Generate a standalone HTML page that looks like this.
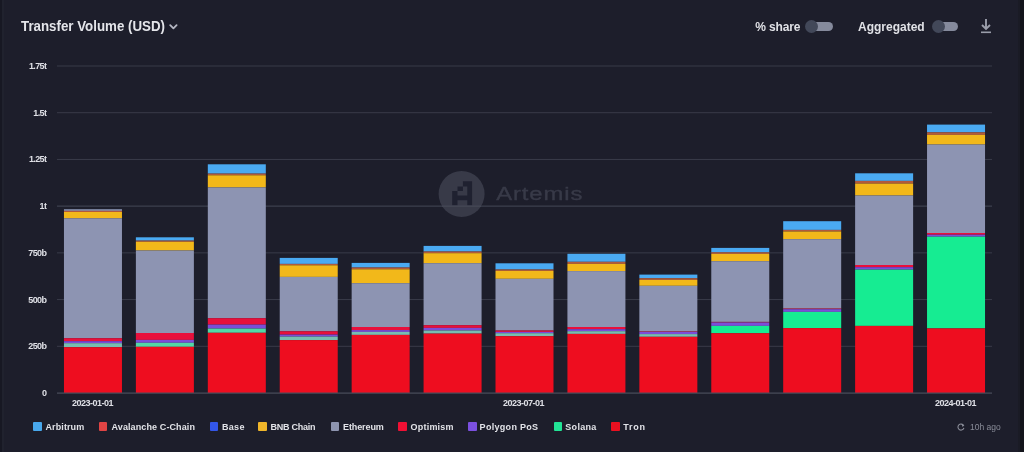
<!DOCTYPE html>
<html><head><meta charset="utf-8">
<style>
*{margin:0;padding:0;box-sizing:border-box}
html,body{will-change:transform;width:1024px;height:452px;overflow:hidden;background:#1d1e2b;font-family:"Liberation Sans",sans-serif}
.abs{position:absolute}
#strip{position:absolute;left:1018px;top:0;width:6px;height:452px;background:#1a1b25}#strip2{position:absolute;left:1020px;top:0;width:4px;height:452px;background:#13141b}#ledge{position:absolute;left:0;top:0;width:1.5px;height:452px;background:#171823}#ledge2{position:absolute;left:1.5px;top:0;width:2.5px;height:452px;background:#20222e}
#title{position:absolute;left:21px;top:16.6px;font-size:15.3px;font-weight:bold;color:#e4e5ea;white-space:nowrap;line-height:18px;transform:scaleX(0.87);transform-origin:0 0}
.tog-label{position:absolute;top:20px;font-size:12px;font-weight:bold;color:#e0e1e6;white-space:nowrap;line-height:15px}
.track{position:absolute;height:9px;border-radius:5px;background:#858a9c}
.knob{position:absolute;width:13px;height:13px;border-radius:6.5px;background:#424859}
.yl{position:absolute;right:977.6px;font-size:9px;font-weight:bold;color:#dfe0e6;line-height:10px;white-space:nowrap;letter-spacing:-0.6px}
.xl{position:absolute;top:397.5px;font-size:9px;font-weight:bold;color:#dfe0e6;line-height:10px;white-space:nowrap;letter-spacing:-0.5px}
.lsq{position:absolute;top:422px;width:8.5px;height:8.5px;border-radius:1px}
.lt{position:absolute;top:421.7px;font-size:9px;font-weight:bold;color:#e2e3e8;line-height:11px;white-space:nowrap;letter-spacing:0.3px}
#ago{position:absolute;left:970px;top:421.8px;font-size:8.5px;color:#8a8d99;line-height:11px;white-space:nowrap}
</style></head><body>
<div id="strip"></div><div id="strip2"></div><div id="ledge"></div><div id="ledge2"></div>
<div id="title">Transfer Volume (USD)</div>
<svg class="abs" style="left:168px;top:21.6px" width="12" height="10" viewBox="0 0 12 10"><path d="M2.2 3.2 L5.4 6.4 L8.6 3.2" stroke="#b4b6c2" stroke-width="1.8" stroke-linecap="round" stroke-linejoin="round" fill="none"/></svg>
<div class="tog-label" style="left:755.3px;letter-spacing:-0.15px">% share</div>
<div class="track" style="left:808px;top:22px;width:25px"></div>
<div class="knob" style="left:805px;top:20px"></div>
<div class="tog-label" style="left:858px">Aggregated</div>
<div class="track" style="left:934px;top:22px;width:24px"></div>
<div class="knob" style="left:932px;top:20px"></div>
<svg class="abs" style="left:979px;top:17px" width="14" height="18" viewBox="0 0 14 18"><path d="M7 2 V12 M3 8 L7 12 L11 8" stroke="#9a9daa" stroke-width="1.9" fill="none"/><rect x="2" y="14.5" width="10" height="1.6" fill="#9a9daa"/></svg>
<svg class="abs" style="left:0;top:0" width="1024" height="452"><rect x="57" y="345.79" width="935" height="1" fill="#393b49"/><rect x="57" y="299.07" width="935" height="1" fill="#393b49"/><rect x="57" y="252.36" width="935" height="1" fill="#393b49"/><rect x="57" y="205.64" width="935" height="1" fill="#393b49"/><rect x="57" y="158.93" width="935" height="1" fill="#393b49"/><rect x="57" y="112.21" width="935" height="1" fill="#393b49"/><rect x="57" y="65.50" width="935" height="1" fill="#393b49"/><circle cx="461.6" cy="194" r="23" fill="#383a48"/><path fill-rule="evenodd" d="M452.2 205.6 V191 H457.5 V186.6 H462.9 V181.25 H472.1 V205.6 H467.3 V200.2 H457.5 V205.6 Z M462.9 186.6 H467.3 V195.4 H457.5 V191 H462.9 Z" fill="#1f2130"/><text transform="translate(496.2,199.8) scale(1.27,1)" x="0" y="0" font-family="Liberation Sans" font-size="18.8" letter-spacing="0.7" fill="#383a48" stroke="#383a48" stroke-width="0.35">Artemis</text><rect x="57" y="205.64" width="935" height="1" fill="#393b49"/><rect x="442" y="205.6" width="39" height="1" fill="#4a4c5a"/><rect x="63.96" y="209.30" width="58.0" height="1.50" fill="#9aa6c8"/><rect x="63.96" y="210.80" width="58.0" height="1.20" fill="#b05a3c"/><rect x="63.96" y="212.00" width="58.0" height="6.30" fill="#f2b81a"/><rect x="63.96" y="218.30" width="58.0" height="119.90" fill="#8d94b2"/><rect x="63.96" y="338.20" width="58.0" height="3.00" fill="#e8103c"/><rect x="63.96" y="341.20" width="58.0" height="2.00" fill="#7c4dd8"/><rect x="63.96" y="343.20" width="58.0" height="4.00" fill="#78bdb0"/><rect x="63.96" y="347.20" width="58.0" height="45.80" fill="#ee0d1f"/><rect x="135.88" y="237.30" width="58.0" height="3.30" fill="#4aaaf2"/><rect x="135.88" y="240.60" width="58.0" height="1.20" fill="#b05a3c"/><rect x="135.88" y="241.80" width="58.0" height="8.70" fill="#f2b81a"/><rect x="135.88" y="250.50" width="58.0" height="82.50" fill="#8d94b2"/><rect x="135.88" y="333.00" width="58.0" height="6.90" fill="#e8103c"/><rect x="135.88" y="339.90" width="58.0" height="2.90" fill="#7c4dd8"/><rect x="135.88" y="342.80" width="58.0" height="4.00" fill="#52d8a6"/><rect x="135.88" y="346.80" width="58.0" height="46.20" fill="#ee0d1f"/><rect x="207.81" y="164.30" width="58.0" height="9.30" fill="#4aaaf2"/><rect x="207.81" y="173.60" width="58.0" height="1.70" fill="#b05a3c"/><rect x="207.81" y="175.30" width="58.0" height="12.10" fill="#f2b81a"/><rect x="207.81" y="187.40" width="58.0" height="130.80" fill="#8d94b2"/><rect x="207.81" y="318.20" width="58.0" height="6.40" fill="#e8103c"/><rect x="207.81" y="324.60" width="58.0" height="4.00" fill="#7c4dd8"/><rect x="207.81" y="328.60" width="58.0" height="4.20" fill="#52d8a6"/><rect x="207.81" y="332.80" width="58.0" height="60.20" fill="#ee0d1f"/><rect x="279.73" y="257.90" width="58.0" height="6.00" fill="#4aaaf2"/><rect x="279.73" y="263.90" width="58.0" height="1.40" fill="#b05a3c"/><rect x="279.73" y="265.30" width="58.0" height="11.60" fill="#f2b81a"/><rect x="279.73" y="276.90" width="58.0" height="54.40" fill="#8d94b2"/><rect x="279.73" y="331.30" width="58.0" height="3.30" fill="#e8103c"/><rect x="279.73" y="334.60" width="58.0" height="2.00" fill="#7c4dd8"/><rect x="279.73" y="336.60" width="58.0" height="3.50" fill="#78bdb0"/><rect x="279.73" y="340.10" width="58.0" height="52.90" fill="#ee0d1f"/><rect x="351.65" y="262.90" width="58.0" height="4.60" fill="#4aaaf2"/><rect x="351.65" y="267.50" width="58.0" height="1.80" fill="#b05a3c"/><rect x="351.65" y="269.30" width="58.0" height="13.90" fill="#f2b81a"/><rect x="351.65" y="283.20" width="58.0" height="43.80" fill="#8d94b2"/><rect x="351.65" y="327.00" width="58.0" height="3.10" fill="#e8103c"/><rect x="351.65" y="330.10" width="58.0" height="1.80" fill="#7c4dd8"/><rect x="351.65" y="331.90" width="58.0" height="3.00" fill="#78bdb0"/><rect x="351.65" y="334.90" width="58.0" height="58.10" fill="#ee0d1f"/><rect x="423.58" y="245.90" width="58.0" height="5.60" fill="#4aaaf2"/><rect x="423.58" y="251.50" width="58.0" height="1.70" fill="#b05a3c"/><rect x="423.58" y="253.20" width="58.0" height="10.00" fill="#f2b81a"/><rect x="423.58" y="263.20" width="58.0" height="62.00" fill="#8d94b2"/><rect x="423.58" y="325.20" width="58.0" height="2.70" fill="#e8103c"/><rect x="423.58" y="327.90" width="58.0" height="2.60" fill="#7c4dd8"/><rect x="423.58" y="330.50" width="58.0" height="3.10" fill="#78bdb0"/><rect x="423.58" y="333.60" width="58.0" height="59.40" fill="#ee0d1f"/><rect x="495.50" y="263.30" width="58.0" height="6.20" fill="#4aaaf2"/><rect x="495.50" y="269.50" width="58.0" height="1.40" fill="#b05a3c"/><rect x="495.50" y="270.90" width="58.0" height="7.90" fill="#f2b81a"/><rect x="495.50" y="278.80" width="58.0" height="51.70" fill="#8d94b2"/><rect x="495.50" y="330.50" width="58.0" height="1.40" fill="#e8103c"/><rect x="495.50" y="331.90" width="58.0" height="1.30" fill="#7c4dd8"/><rect x="495.50" y="333.20" width="58.0" height="3.00" fill="#78bdb0"/><rect x="495.50" y="336.20" width="58.0" height="56.80" fill="#ee0d1f"/><rect x="567.42" y="253.80" width="58.0" height="8.00" fill="#4aaaf2"/><rect x="567.42" y="261.80" width="58.0" height="2.10" fill="#b05a3c"/><rect x="567.42" y="263.90" width="58.0" height="7.20" fill="#f2b81a"/><rect x="567.42" y="271.10" width="58.0" height="55.90" fill="#8d94b2"/><rect x="567.42" y="327.00" width="58.0" height="2.20" fill="#e8103c"/><rect x="567.42" y="329.20" width="58.0" height="2.00" fill="#7c4dd8"/><rect x="567.42" y="331.20" width="58.0" height="2.70" fill="#78bdb0"/><rect x="567.42" y="333.90" width="58.0" height="59.10" fill="#ee0d1f"/><rect x="639.35" y="274.60" width="58.0" height="3.60" fill="#4aaaf2"/><rect x="639.35" y="278.20" width="58.0" height="1.70" fill="#b05a3c"/><rect x="639.35" y="279.90" width="58.0" height="5.90" fill="#f2b81a"/><rect x="639.35" y="285.80" width="58.0" height="45.70" fill="#8d94b2"/><rect x="639.35" y="331.50" width="58.0" height="0.40" fill="#e8103c"/><rect x="639.35" y="331.90" width="58.0" height="2.20" fill="#7c4dd8"/><rect x="639.35" y="334.10" width="58.0" height="2.70" fill="#78bdb0"/><rect x="639.35" y="336.80" width="58.0" height="56.20" fill="#ee0d1f"/><rect x="711.27" y="247.90" width="58.0" height="4.40" fill="#4aaaf2"/><rect x="711.27" y="252.30" width="58.0" height="1.60" fill="#b05a3c"/><rect x="711.27" y="253.90" width="58.0" height="7.30" fill="#f2b81a"/><rect x="711.27" y="261.20" width="58.0" height="60.70" fill="#8d94b2"/><rect x="711.27" y="321.90" width="58.0" height="0.60" fill="#e8103c"/><rect x="711.27" y="322.50" width="58.0" height="3.40" fill="#7c4dd8"/><rect x="711.27" y="325.90" width="58.0" height="7.30" fill="#16ec92"/><rect x="711.27" y="333.20" width="58.0" height="59.80" fill="#ee0d1f"/><rect x="783.19" y="221.20" width="58.0" height="8.70" fill="#4aaaf2"/><rect x="783.19" y="229.90" width="58.0" height="1.60" fill="#b05a3c"/><rect x="783.19" y="231.50" width="58.0" height="7.70" fill="#f2b81a"/><rect x="783.19" y="239.20" width="58.0" height="69.40" fill="#8d94b2"/><rect x="783.19" y="308.60" width="58.0" height="0.60" fill="#e8103c"/><rect x="783.19" y="309.20" width="58.0" height="2.70" fill="#7c4dd8"/><rect x="783.19" y="311.90" width="58.0" height="16.20" fill="#16ec92"/><rect x="783.19" y="328.10" width="58.0" height="64.90" fill="#ee0d1f"/><rect x="855.12" y="173.30" width="58.0" height="7.60" fill="#4aaaf2"/><rect x="855.12" y="180.90" width="58.0" height="2.70" fill="#b05a3c"/><rect x="855.12" y="183.60" width="58.0" height="11.90" fill="#f2b81a"/><rect x="855.12" y="195.50" width="58.0" height="69.50" fill="#8d94b2"/><rect x="855.12" y="265.00" width="58.0" height="2.20" fill="#e8103c"/><rect x="855.12" y="267.20" width="58.0" height="2.40" fill="#7c4dd8"/><rect x="855.12" y="269.60" width="58.0" height="56.30" fill="#16ec92"/><rect x="855.12" y="325.90" width="58.0" height="67.10" fill="#ee0d1f"/><rect x="927.04" y="124.60" width="58.0" height="7.70" fill="#4aaaf2"/><rect x="927.04" y="132.30" width="58.0" height="2.60" fill="#b05a3c"/><rect x="927.04" y="134.90" width="58.0" height="9.60" fill="#f2b81a"/><rect x="927.04" y="144.50" width="58.0" height="88.50" fill="#8d94b2"/><rect x="927.04" y="233.00" width="58.0" height="1.70" fill="#e8103c"/><rect x="927.04" y="234.70" width="58.0" height="2.00" fill="#7c4dd8"/><rect x="927.04" y="236.70" width="58.0" height="91.70" fill="#16ec92"/><rect x="927.04" y="328.40" width="58.0" height="64.60" fill="#ee0d1f"/><rect x="57" y="392.5" width="935" height="1.2" fill="#4a4d5c"/></svg>
<div class="yl" style="top:388.0px">0</div><div class="yl" style="top:341.3px">250b</div><div class="yl" style="top:294.6px">500b</div><div class="yl" style="top:247.9px">750b</div><div class="yl" style="top:201.1px">1t</div><div class="yl" style="top:154.4px">1.25t</div><div class="yl" style="top:107.7px">1.5t</div><div class="yl" style="top:61.0px">1.75t</div>
<div class="xl" style="left:72px">2023-01-01</div>
<div class="xl" style="left:503px">2023-07-01</div>
<div class="xl" style="left:935px">2024-01-01</div>
<div class="lsq" style="left:33px;background:#48a8ec"></div><div class="lt" style="left:45.5px;letter-spacing:0.1px">Arbitrum</div><div class="lsq" style="left:98.5px;background:#e04444"></div><div class="lt" style="left:111.5px;letter-spacing:0.11px">Avalanche C-Chain</div><div class="lsq" style="left:209.5px;background:#3356e8"></div><div class="lt" style="left:222px;letter-spacing:0.3px">Base</div><div class="lsq" style="left:258px;background:#f0b62a"></div><div class="lt" style="left:270.5px;letter-spacing:-0.26px">BNB Chain</div><div class="lsq" style="left:330.5px;background:#8e95b0"></div><div class="lt" style="left:343px;letter-spacing:-0.1px">Ethereum</div><div class="lsq" style="left:398px;background:#f01034"></div><div class="lt" style="left:410.6px;letter-spacing:0.2px">Optimism</div><div class="lsq" style="left:468px;background:#7b50e0"></div><div class="lt" style="left:479.6px;letter-spacing:0.3px">Polygon PoS</div><div class="lsq" style="left:553.5px;background:#22e496"></div><div class="lt" style="left:565.3px;letter-spacing:0.3px">Solana</div><div class="lsq" style="left:611px;background:#ea1020"></div><div class="lt" style="left:623.3px;letter-spacing:0.77px">Tron</div>
<svg class="abs" style="left:956.5px;top:423px" width="8" height="8" viewBox="0 0 8 8"><path d="M6.6 2.6 A3 3 0 1 0 6.9 4.8" stroke="#8a8d99" stroke-width="1.1" fill="none"/><path d="M5.2 0.8 L7.4 2.8 L5 3.8 Z" fill="#8a8d99"/></svg>
<div id="ago">10h ago</div>
</body></html>
